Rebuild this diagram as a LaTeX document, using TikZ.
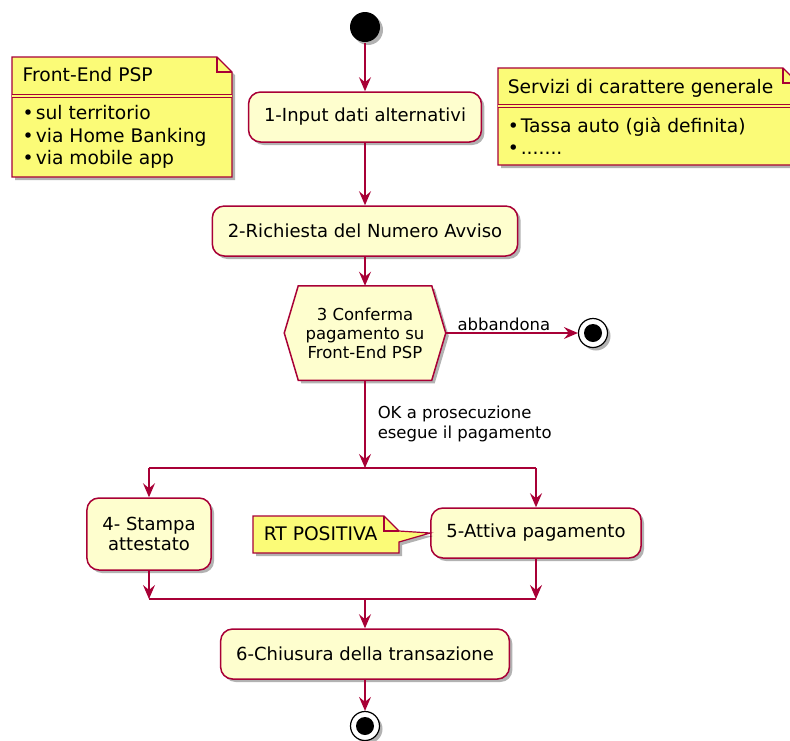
\documentclass[tikz,border=0pt]{standalone}
\usepackage{fontspec}
\setmainfont{DejaVu Sans}
\usetikzlibrary{arrows.meta,positioning,shadows,backgrounds}

\definecolor{umlred}{HTML}{A80036}
\definecolor{actfill}{HTML}{FEFECE}
\definecolor{notefill}{HTML}{FBFB77}

\begin{document}
\begin{tikzpicture}[
    x = 1pt, y = -1pt, %
    > = {Stealth[length=14pt, width=12pt, inset=5pt]}, %
    line width = 1.5pt,
    flow/.style = {->, draw = umlred},
    bar/.style = {draw = umlred},
    shade/.style = {drop shadow = {shadow xshift=3pt, shadow yshift=-3pt, opacity=0.3, fill=black}},
    activity/.style = {rectangle, rounded corners = 12pt, draw = umlred, fill = actfill,
        minimum height = 50pt, inner xsep = 15.5pt, inner ysep = 4pt, align = center,
        font = \fontsize{18}{20.5}\selectfont, shade},
    decision/.style = {rectangle, minimum width = 160pt, minimum height = 93pt, inner sep = 0pt,
        align = center, font = \fontsize{16.5}{19}\selectfont},
    hexa/.style = {draw = umlred, line width = 1.5pt, fill = actfill, shade},
    startstate/.style = {circle, fill = black, minimum size = 30pt, inner sep = 0pt, shade},
    endstate/.style = {circle, draw = black, line width = 1.2pt, fill = white, minimum size = 29pt,
        inner sep = 0pt, shade,
        path picture = {\fill[black] (path picture bounding box.center) circle (9pt);}},
    lbl/.style = {font = \fontsize{16.5}{20}\selectfont, inner sep = 0pt, align = left},
    notebody/.style = {draw = umlred, fill = notefill, line width = 1.2pt, shade},
    notefold/.style = {draw = umlred, line width = 1.2pt},
    notesep/.style = {draw = umlred, line width = 1.2pt, double = notefill, double distance = 2pt},
    notetext/.style = {font = \fontsize{18.7}{22.3}\selectfont, inner sep = 0pt, align = left}
    ]

    \useasboundingbox (0,0) rectangle (790,740);

    % notes
    \path[notebody] (12,57) -- (217,57) -- (232,72) -- (232,177) -- (12,177) -- cycle;
    \draw[notefold] (217,57) |- (232,72);
    \draw[notesep] (12,96) -- (232,96);
    \node[notetext, anchor=west] (psptitle) at (22,75) {Front-End PSP};
    \node[notetext, anchor=west] (psplist) at (22,137)
        {•\kern2pt sul territorio\\•\kern2pt via Home Banking\\•\kern2pt via mobile app};

    \path[notebody] (498,68) -- (783,68) -- (798,83) -- (798,165) -- (498,165) -- cycle;
    \draw[notefold] (783,68) |- (798,83);
    \draw[notesep] (498,106) -- (798,106);
    \node[notetext, anchor=west] (svctitle) at (507,88) {Servizi di carattere generale};
    \node[notetext, anchor=west] (svclist) at (507,136)
        {•\kern2pt Tassa auto (già definita)\\•\kern2pt .......};

    % activities
    \node[startstate] (start) at (365,27) {};
    \node[activity] (inp)   at (365,117) {1-Input dati alternativi};
    \node[activity] (req)   at (365,231) {2-Richiesta del Numero Avviso};
    \node[decision] (conf)  at (365,333) {3 Conferma\\pagamento su\\Front-End PSP};
    \node[endstate] (quit)  at (593,333) {};
    \node[activity, minimum height=72pt] (print) at (149,534) {4- Stampa\\attestato};
    \node[activity] (pay)   at (536,533) {5-Attiva pagamento};
    \node[activity] (close) at (365,654) {6-Chiusura della transazione};
    \node[endstate] (stop)  at (365,726) {};

    \coordinate (fork) at (365,468);
    \coordinate (join) at (365,599);

    \begin{scope}[on background layer]
        \path[hexa] ([xshift=14pt]conf.north west) -- ([xshift=-14pt]conf.north east) -- (conf.east)
            -- ([xshift=-14pt]conf.south east) -- ([xshift=14pt]conf.south west) -- (conf.west) -- cycle;
    \end{scope}

    % note on 5
    \path[notebody] (253,516) -- (384,516) -- (399,531) -- (pay.west) -- (399,542)
        -- (399,553) -- (253,553) -- cycle;
    \draw[notefold] (384,516) |- (399,531);
    \node[notetext, anchor=west] (rt) at (263,534) {RT POSITIVA};

    \draw[flow] (start) -- (inp);
    \draw[flow] (inp) -- (req);
    \draw[flow] (req) -- (conf);
    \draw[flow] (conf) -- node[lbl, above=2pt, pos=0.44] {abbandona} (quit);
    \draw[flow] (conf) -- node[lbl, right=12pt] {OK a prosecuzione\\esegue il pagamento} (fork);

    \draw[bar] (print |- fork) -- (pay |- fork);
    \draw[flow] (print |- fork) -- (print);
    \draw[flow] (pay |- fork) -- (pay);
    \draw[flow] (print) -- (print |- join);
    \draw[flow] (pay) -- (pay |- join);
    \draw[bar] (print |- join) -- (pay |- join);
    \draw[flow] (join) -- (close);
    \draw[flow] (close) -- (stop);

\end{tikzpicture}
\end{document}
